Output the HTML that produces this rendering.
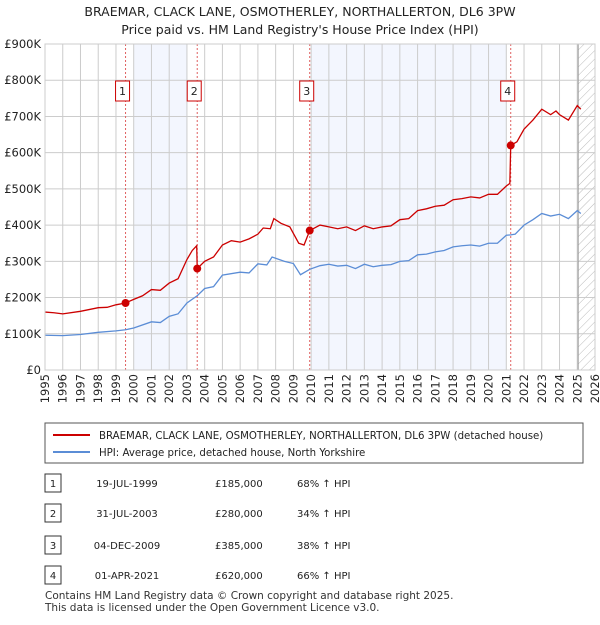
<!DOCTYPE html>
<html><head><meta charset="utf-8"><style>
body{margin:0;background:#fff;font-family:"Liberation Sans","DejaVu Sans",sans-serif;}
svg text{font-family:"DejaVu Sans","Liberation Sans",sans-serif;}
</style></head><body>
<svg id="c" width="600" height="620" xmlns="http://www.w3.org/2000/svg">
<defs><pattern id="h" width="6" height="6" patternUnits="userSpaceOnUse" patternTransform="rotate(45)"><line x1="0" y1="0" x2="0" y2="6" stroke="#bbb" stroke-width="1"/></pattern></defs>
<text x="300" y="16" text-anchor="middle" font-size="12.5" fill="#222">BRAEMAR, CLACK LANE, OSMOTHERLEY, NORTHALLERTON, DL6 3PW</text>
<text x="300" y="34" text-anchor="middle" font-size="12.5" fill="#222">Price paid vs. HM Land Registry's House Price Index (HPI)</text>
<g id="plot"></g>
<rect x="45" y="423" width="538" height="40" fill="#fff" stroke="#555"/>
<line x1="53" y1="435" x2="90" y2="435" stroke="#cc0000" stroke-width="2"/>
<text x="99" y="439" font-size="10.2" fill="#222">BRAEMAR, CLACK LANE, OSMOTHERLEY, NORTHALLERTON, DL6 3PW (detached house)</text>
<line x1="53" y1="452" x2="90" y2="452" stroke="#5b8dd6" stroke-width="2"/>
<text x="99" y="456" font-size="10.2" fill="#222">HPI: Average price, detached house, North Yorkshire</text>
<g id="tbl"></g>
<text x="45" y="599" font-size="10.5" fill="#333">Contains HM Land Registry data © Crown copyright and database right 2025.</text>
<text x="45" y="611" font-size="10.5" fill="#333">This data is licensed under the Open Government Licence v3.0.</text>
</svg>
<script>
const yTicks=[0,100,200,300,400,500,600,700,800,900];
const yLabels=["£0","£100K","£200K","£300K","£400K","£500K","£600K","£700K","£800K","£900K"];
const years=[1995,1996,1997,1998,1999,2000,2001,2002,2003,2004,2005,2006,2007,2008,2009,2010,2011,2012,2013,2014,2015,2016,2017,2018,2019,2020,2021,2022,2023,2024,2025,2026];
const hpiT=[1995,1996,1997,1998,1999,1999.54,2000,2001,2001.5,2002,2002.5,2003,2003.58,2004,2004.5,2005,2006,2006.5,2007,2007.5,2007.8,2008.5,2009,2009.4,2009.92,2010.5,2011,2011.5,2012,2012.5,2013,2013.5,2014,2014.5,2015,2015.5,2016,2016.5,2017,2017.5,2018,2018.5,2019,2019.5,2020,2020.5,2021,2021.25,2021.5,2022,2022.5,2023,2023.5,2024,2024.5,2025,2025.2];
const hpiV=[96,95,98,104,108,111,116,133,131,148,155,185,205,225,230,262,270,268,293,290,312,300,294,263,278,288,292,287,289,280,292,285,289,291,300,302,318,320,326,330,340,343,345,342,350,350,372,373,375,400,415,432,425,430,418,440,432];
const redT=[1995,1995.5,1996,1997,1998,1998.5,1999,1999.54,2000,2000.5,2001,2001.5,2002,2002.5,2003,2003.3,2003.55,2003.58,2004,2004.5,2005,2005.5,2006,2006.5,2007,2007.3,2007.7,2007.9,2008.3,2008.8,2009.3,2009.6,2009.92,2010.5,2011,2011.5,2012,2012.5,2013,2013.5,2014,2014.5,2015,2015.5,2016,2016.5,2017,2017.5,2018,2018.5,2019,2019.5,2020,2020.5,2021,2021.2,2021.25,2021.6,2022,2022.5,2023,2023.5,2023.8,2024,2024.5,2025,2025.2];
const redV=[160,158,155,162,172,173,180,185,195,205,222,220,240,252,305,330,343,280,300,312,345,357,353,362,375,392,390,418,405,395,350,345,385,400,395,390,395,385,398,390,395,398,415,418,440,445,452,455,470,473,478,475,485,485,508,515,620,630,665,690,720,705,715,705,690,730,720];
const saleIds=["1","2","3","4"];
const saleT=[1999.54,2003.58,2009.92,2021.25];
const saleV=[185,280,385,620];
const saleDates=["19-JUL-1999","31-JUL-2003","04-DEC-2009","01-APR-2021"];
const salePrices=["£185,000","£280,000","£385,000","£620,000"];
const saleHpi=["68% ↑ HPI","34% ↑ HPI","38% ↑ HPI","66% ↑ HPI"];
const shadeStart=[2000,2010];
const shadeEnd=[2003,2021];
const X0=45,X1=595,Y0=370,Y1=44,T0=1995,T1=2026,VMAX=900,FUT=2025.05;
const xs=t=>X0+(t-T0)/(T1-T0)*(X1-X0);
const ys=v=>Y0-v/VMAX*(Y0-Y1);
const NS="http://www.w3.org/2000/svg";
const plot=document.getElementById('plot');
function mk(tag,at,parent){const e=document.createElementNS(NS,tag);for(const k in at)e.setAttribute(k,at[k]);(parent||plot).appendChild(e);return e;}
let e;
e=mk('rect',{x:X0,y:Y1,width:X1-X0,height:Y0-Y1,fill:'#fff'});


shadeStart.forEach((a,i)=>{e=mk('rect',{x:xs(a),y:Y1,width:xs(shadeEnd[i])-xs(a),height:Y0-Y1,fill:'#f3f6fe'});

});
e=mk('rect',{x:xs(FUT),y:Y1,width:X1-xs(FUT),height:Y0-Y1,fill:'url(#h)'});


years.forEach(y=>{e=mk('line',{x1:xs(y),x2:xs(y),y1:Y1,y2:Y0,stroke:'#ccc','stroke-width':1});


e=mk('text',{x:0,y:0,'font-size':11.5,fill:'#222','text-anchor':'end',transform:`translate(${xs(y)+4},${Y0+4}) rotate(-90)`});e.textContent=y;

});
yTicks.forEach((v,i)=>{e=mk('line',{x1:X0,x2:X1,y1:ys(v),y2:ys(v),stroke:'#ccc','stroke-width':1});


e=mk('text',{x:X0-4,y:ys(v)+4,'font-size':11.5,fill:'#222','text-anchor':'end'});e.textContent=yLabels[i];

});
e=mk('line',{x1:xs(FUT),x2:xs(FUT),y1:Y1,y2:Y0,stroke:'#999','stroke-width':1});


saleT.forEach((t,i)=>{e=mk('line',{x1:xs(t),x2:xs(t),y1:Y1,y2:Y0,stroke:'#e06060','stroke-width':1,'stroke-dasharray':'2,2'});

});
e=mk('polyline',{points:hpiT.map((t,i)=>xs(t)+','+ys(hpiV[i])).join(' '),fill:'none',stroke:'#5b8dd6','stroke-width':1.3});


e=mk('polyline',{points:redT.map((t,i)=>xs(t)+','+ys(redV[i])).join(' '),fill:'none',stroke:'#cc0000','stroke-width':1.3});


saleT.forEach((t,i)=>{e=mk('circle',{cx:xs(t),cy:ys(saleV[i]),r:4,fill:'#cc0000'});


const g=mk('g',{});
mk('rect',{x:xs(t)-10,y:81,width:14,height:20,fill:'#fff',stroke:'#cc0000'},g);
const tx=mk('text',{x:xs(t)-3,y:95,'font-size':11,fill:'#222','text-anchor':'middle'},g);tx.textContent=saleIds[i];

});
e=mk('rect',{x:X0,y:Y1,width:X1-X0,height:Y0-Y1,fill:'none',stroke:'#ccc'});


const tbl=document.getElementById('tbl');
const rowY=[483,513,545,575];
saleIds.forEach((id,i)=>{const g=mk('g',{},tbl);


mk('rect',{x:45,y:rowY[i]-9,width:16,height:18,fill:'#fff',stroke:'#333'},g);
let t=mk('text',{x:53,y:rowY[i]+4,'font-size':10,fill:'#222','text-anchor':'middle'},g);t.textContent=id;
t=mk('text',{x:127,y:rowY[i]+4,'font-size':10,fill:'#222','text-anchor':'middle'},g);t.textContent=saleDates[i];
t=mk('text',{x:215,y:rowY[i]+4,'font-size':10,fill:'#222'},g);t.textContent=salePrices[i];
t=mk('text',{x:297,y:rowY[i]+4,'font-size':10,fill:'#222'},g);t.textContent=saleHpi[i];});
</script>
</body></html>
